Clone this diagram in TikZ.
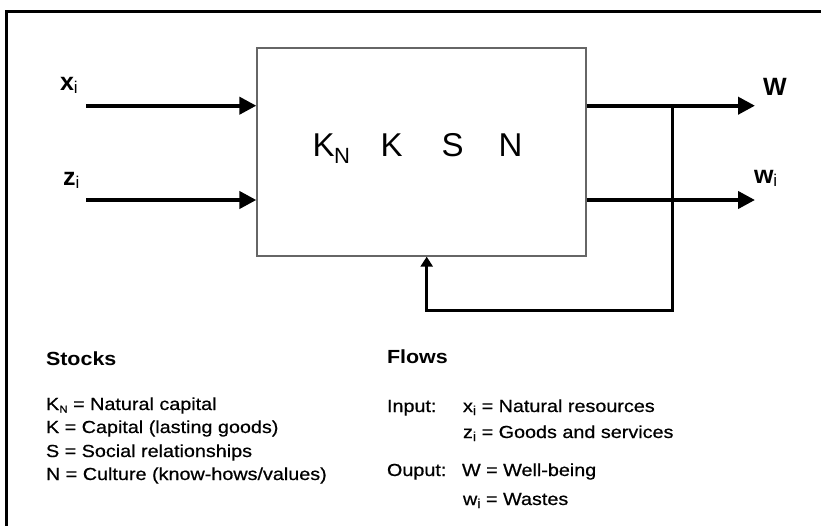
\documentclass[tikz,border=0pt]{standalone}
\usepackage{fontspec}
\setmainfont{Liberation Sans}
\newfontfamily\legendfont[FakeStretch=1.13, FakeBold=0.6]{Liberation Sans}
\newfontfamily\headfont[FakeStretch=1.13]{Liberation Sans}
\usetikzlibrary{arrows.meta}

\tikzset{
  txt/.style={anchor=base west, inner sep=0pt, outer sep=0pt},
  flowlabel/.style={txt, font=\fontsize{25}{25}\selectfont\bfseries},
  legend/.style={txt, font=\legendfont\fontsize{17.5}{20}\selectfont},
  heading/.style={txt, font=\headfont\fontsize{19}{22}\selectfont\bfseries},
  stock/.style={txt, font=\fontsize{33}{36}\selectfont},
  flowarrow/.style={line width=4pt, -{Triangle[length=17pt,width=17pt]}},
  feedback/.style={line width=3pt, -{Triangle[length=10pt,width=12pt]}},
  system/.style={draw=black!60, line width=1.3pt, fill=white,
    minimum width=329pt, minimum height=208pt, inner sep=0pt},
}
\newcommand{\smallsub}[1]{\raisebox{-3pt}{\mdseries\fontsize{17}{17}\selectfont #1}}
\newcommand{\legsub}[3]{\raisebox{-#2}{\fontsize{#3}{#3}\selectfont #1}}

\begin{document}
\begin{tikzpicture}[x=1pt, y=-1pt]
  \useasboundingbox (0,0) rectangle (821,525);
  \clip (0,0) rectangle (821,525);
  \fill[white] (0,0) rectangle (821,525);

  % outer frame
  \draw[line width=3pt] (6.2,11.7) rectangle (840,545);

  % the system box
  \node[system] (box) at (421.5,152) {};

  % stocks inside the box
  \node[stock] (kn) at (312.6,156) {K\kern-0.5pt\raisebox{-7pt}{\fontsize{22}{22}\selectfont N}};
  \node[stock] (kk) at (380.6,156) {K};
  \node[stock] (ss) at (441.5,156) {S};
  \node[stock] (nn) at (498.5,156) {N};

  % inputs
  \coordinate (xin) at (86,105.7);
  \coordinate (zin) at (86,200);
  \draw[flowarrow] (xin) -- (box.west |- xin);
  \draw[flowarrow] (zin) -- (box.west |- zin);
  \node[flowlabel] (xlab) at (60,90) {x\smallsub{i}};
  \node[flowlabel] (zlab) at (63,185) {z\smallsub{i}};

  % outputs
  \coordinate (wout) at (755,105.7);
  \coordinate (wiout) at (755,200);
  \draw[flowarrow] (box.east |- wout) -- (wout);
  \draw[flowarrow] (box.east |- wiout) -- (wiout);
  \node[flowlabel] (wlab) at (763,95) {W};
  \node[flowlabel] (wilab) at (754,183) {w\smallsub{i}};

  % feedback loop from well-being back into the system
  \coordinate (tap) at (672,105.7);
  \coordinate (turn) at (426.7,310.7);
  \draw[feedback] (tap) |- (turn) -- (turn |- box.south);

  % legend: stocks
  \node[heading] (stocks) at (46,365) {Stocks};
  \node[legend] (l1) at (46,410) {K\kern0.3pt\legsub{N}{2.5pt}{10} = Natural capital};
  \node[legend] (l2) at (46,433) {K = Capital (lasting goods)};
  \node[legend] (l3) at (46,457) {S = Social relationships};
  \node[legend] (l4) at (46,480) {N = Culture (know-hows/values)};

  % legend: flows
  \node[heading] (flows) at (387,363) {Flows};
  \node[legend] (inp) at (387,412) {Input:};
  \node[legend] (f1) at (463,412) {x\legsub{i}{3pt}{13} = Natural resources};
  \node[legend] (f2) at (463,438) {z\legsub{i}{3pt}{13} = Goods and services};
  \node[legend] (outp) at (387,476) {Ouput:};
  \node[legend] (f3) at (462,476) {W = Well-being};
  \node[legend] (f4) at (463,505) {w\legsub{i}{3pt}{13} = Wastes};
\end{tikzpicture}
\end{document}
